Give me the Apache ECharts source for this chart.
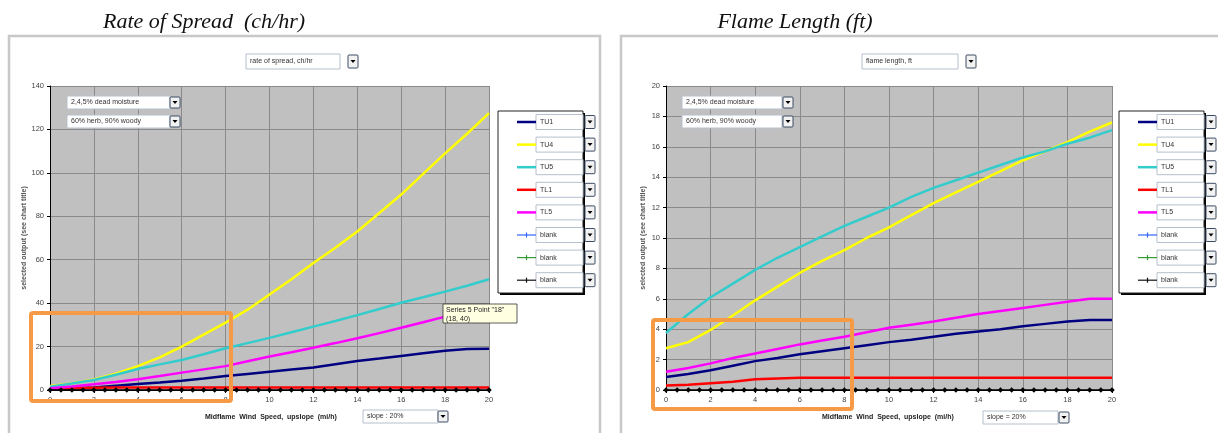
<!DOCTYPE html>
<html>
<head>
<meta charset="utf-8">
<script src="https://cdn.jsdelivr.net/npm/echarts@6/dist/echarts.min.js"></script>
<style>
  html, body { margin: 0; padding: 0; background: #fff; }
  #chart { width: 1218px; height: 433px; }
</style>
</head>
<body>
<div id="chart"></div>
<script>
// wind speed (mi/h) for the fuel model curves
const windSpeed = [0, 1, 2, 3, 4, 5, 6, 7, 8, 9, 10, 11, 12, 13, 14, 15, 16, 17, 18, 19, 20]

// rate of spread, ch/hr
const rosTU1 = [0.3, 0.7, 1.2, 2.0, 2.8, 3.5, 4.3, 5.3, 6.4, 7.4, 8.4, 9.4, 10.4, 11.9, 13.4, 14.5, 15.7, 16.9, 18.1, 18.9, 19.0]
const rosTU4 = [1.8, 3.0, 4.8, 7.5, 11, 15, 20, 25.5, 31, 37, 44, 51, 58.5, 65.5, 73, 81.5, 90, 99.5, 109, 118, 127.5]
const rosTU5 = [1.5, 3.0, 4.6, 7.0, 9.7, 11.8, 13.8, 16.5, 19.2, 21.6, 24, 26.6, 29.2, 31.8, 34.5, 37.3, 40.2, 42.7, 45.3, 48, 51]
const rosTL1 = [0.7, 0.9, 1.0, 1.1, 1.2, 1.2, 1.2, 1.2, 1.2, 1.2, 1.2, 1.2, 1.2, 1.2, 1.2, 1.2, 1.2, 1.2, 1.2, 1.2, 1.2]
const rosTL5 = [0.8, 1.6, 2.6, 3.7, 4.9, 6.4, 8.0, 9.5, 11, 13.2, 15.4, 17.4, 19.5, 21.6, 23.8, 26.2, 28.7, 31.2, 33.8, 36.5, 39]

// flame length, ft
const flTU1 = [0.85, 1.05, 1.3, 1.6, 1.9, 2.1, 2.35, 2.55, 2.75, 2.95, 3.15, 3.3, 3.5, 3.7, 3.85, 4.0, 4.2, 4.35, 4.5, 4.6, 4.6]
const flTU4 = [2.75, 3.15, 3.95, 4.9, 5.9, 6.8, 7.7, 8.5, 9.2, 10.0, 10.7, 11.5, 12.3, 13.0, 13.7, 14.4, 15.1, 15.7, 16.3, 17.0, 17.6]
const flTU5 = [3.75, 5.0, 6.1, 7.0, 7.9, 8.7, 9.4, 10.1, 10.8, 11.4, 12.0, 12.7, 13.3, 13.8, 14.3, 14.8, 15.3, 15.7, 16.2, 16.6, 17.1]
const flTL1 = [0.3, 0.35, 0.45, 0.55, 0.7, 0.75, 0.8, 0.8, 0.8, 0.8, 0.8, 0.8, 0.8, 0.8, 0.8, 0.8, 0.8, 0.8, 0.8, 0.8, 0.8]
const flTL5 = [1.2, 1.45, 1.75, 2.1, 2.4, 2.7, 3.0, 3.25, 3.5, 3.8, 4.1, 4.3, 4.5, 4.75, 5.0, 5.2, 5.4, 5.6, 5.8, 6.0, 6.0]

// the "blank" series sits on the x axis, one marker every half mile
const blankX = [0, 0.5, 1, 1.5, 2, 2.5, 3, 3.5, 4, 4.5, 5, 5.5, 6, 6.5, 7, 7.5, 8, 8.5, 9, 9.5, 10,
  10.5, 11, 11.5, 12, 12.5, 13, 13.5, 14, 14.5, 15, 15.5, 16, 16.5, 17, 17.5, 18, 18.5, 19, 19.5, 20]
const blankY = [0, 0, 0, 0, 0, 0, 0, 0, 0, 0, 0, 0, 0, 0, 0, 0, 0, 0, 0, 0, 0,
  0, 0, 0, 0, 0, 0, 0, 0, 0, 0, 0, 0, 0, 0, 0, 0, 0, 0, 0, 0]

const legendNames = ['TU1', 'TU4', 'TU5', 'TL1', 'TL5', 'blank', 'blank', 'blank']
const legendColors = ['#000080', '#ffff00', '#33cccc', '#ff0000', '#ff00ff', '#3366ff', '#339933', '#111111']

const rosTicks = [0, 140, 20]
const flTicks = [0, 20, 2]

const font = '"Liberation Sans", Arial, sans-serif'
const tinyText = '7px ' + font

function pairs (ys) {
  return ys.map((y, i) => [windSpeed[i], y])
}

function curve (name, ys, color, idx) {
  return {
    name: name,
    type: 'line',
    xAxisIndex: idx,
    yAxisIndex: idx,
    data: pairs(ys),
    showSymbol: false,
    lineStyle: { color: color, width: 2.5 },
    itemStyle: { color: color },
    animation: false
  }
}

function blankSeries (idx) {
  return {
    name: 'blank',
    type: 'line',
    xAxisIndex: idx,
    yAxisIndex: idx,
    data: blankX.map((x, i) => [x, blankY[i]]),
    symbol: 'diamond',
    symbolSize: 5.5,
    lineStyle: { color: '#000', width: 1.5 },
    itemStyle: { color: '#000' },
    animation: false,
    z: 3
  }
}

function xAxisCfg (idx) {
  return {
    type: 'value',
    gridIndex: idx,
    min: 0,
    max: 20,
    interval: 2,
    axisLine: { lineStyle: { color: '#000', width: 1 } },
    axisTick: { show: true, length: 3, lineStyle: { color: '#000' } },
    axisLabel: { fontFamily: font, fontSize: 7.5, color: '#444', margin: 6 },
    splitLine: { show: true, lineStyle: { color: '#8a8a8a', width: 1 } }
  }
}

function yAxisCfg (idx, t) {
  return {
    type: 'value',
    gridIndex: idx,
    min: t[0],
    max: t[1],
    interval: t[2],
    name: 'selected output (see chart title)',
    nameLocation: 'middle',
    nameGap: 19,
    nameTextStyle: { fontFamily: font, fontSize: 7, color: '#555', fontWeight: 'bold' },
    axisLine: { show: true, lineStyle: { color: '#000', width: 1 } },
    axisTick: { show: true, length: 3, lineStyle: { color: '#000' } },
    axisLabel: { fontFamily: font, fontSize: 7.5, color: '#444', margin: 6 },
    splitLine: { show: true, lineStyle: { color: '#8a8a8a', width: 1 } }
  }
}

// little combo box like the ones in the spreadsheet
function dropdown (x, y, w, h, label, ax) {
  return [
    { type: 'rect', z: 100, shape: { x: x, y: y, width: w, height: h },
      style: { fill: '#fff', stroke: '#b4c0cc', lineWidth: 1 } },
    { type: 'text', z: 101, style: { text: label, x: x + 4, y: y + h / 2, font: tinyText, fill: '#333', verticalAlign: 'middle' } },
    { type: 'rect', z: 101, shape: { x: ax, y: y + 1, width: 10, height: h - 2, r: 1 },
      style: { fill: '#f2f2f2', stroke: '#3c4c64', lineWidth: 1 } },
    { type: 'polygon', z: 102, shape: { points: [[ax + 2.5, y + h / 2 - 1.5], [ax + 7.5, y + h / 2 - 1.5], [ax + 5, y + h / 2 + 1.5]] },
      style: { fill: '#000' } }
  ]
}

function legendBox (x0, y0) {
  let els = [
    { type: 'rect', z: 99, shape: { x: x0 + 2, y: y0 + 2, width: 85, height: 182 }, style: { fill: '#000' } },
    { type: 'rect', z: 100, shape: { x: x0, y: y0, width: 85, height: 182 }, style: { fill: '#fff', stroke: '#222', lineWidth: 1 } }
  ]
  legendNames.forEach((name, i) => {
    let cy = y0 + 11 + i * 22.6
    let thin = name === 'blank'
    els.push({ type: 'line', z: 101, shape: { x1: x0 + 19, y1: cy, x2: x0 + 38, y2: cy },
      style: { stroke: legendColors[i], lineWidth: thin ? 1.2 : 2.5 } })
    if (thin) {
      els.push({ type: 'line', z: 101, shape: { x1: x0 + 28.5, y1: cy - 2.5, x2: x0 + 28.5, y2: cy + 2.5 },
        style: { stroke: legendColors[i], lineWidth: 1.2 } })
    }
    els = els.concat(dropdown(x0 + 38, cy - 7.5, 47, 15, name, x0 + 87))
  })
  return els
}

function frame (x, w, title, titleX) {
  return [
    { type: 'rect', z: 1, shape: { x: x, y: 36, width: w, height: 420 },
      style: { fill: 'none', stroke: '#c8c8c8', lineWidth: 2.5 } },
    { type: 'text', z: 1, style: { text: title, x: titleX, y: 22, align: 'center', verticalAlign: 'middle',
      font: 'italic 22px "Liberation Serif", "Times New Roman", serif', fill: '#111' } }
  ]
}

function orangeBox (x, y, w, h) {
  return { type: 'rect', z: 110, shape: { x: x, y: y, width: w, height: h, r: 2 },
    style: { fill: 'none', stroke: '#f79a45', lineWidth: 4 } }
}

function axisTitle (x, y) {
  return { type: 'text', z: 100, style: { text: 'Midflame  Wind  Speed,  upslope  (mi/h)', x: x, y: y,
    font: 'bold 7px ' + font, fill: '#222', verticalAlign: 'middle' } }
}

let graphics = []
graphics = graphics.concat(frame(9, 591, 'Rate of Spread  (ch/hr)', 204))
graphics = graphics.concat(frame(621, 620, 'Flame Length (ft)', 795))
graphics = graphics.concat(dropdown(246, 54, 94, 15, 'rate of spread, ch/hr', 348))
graphics = graphics.concat(dropdown(862, 54, 96, 15, 'flame length, ft', 966))
graphics = graphics.concat(dropdown(67, 96, 103, 13, '2,4,5% dead moisture', 170))
graphics = graphics.concat(dropdown(67, 115, 103, 13, '60% herb, 90% woody', 170))
graphics = graphics.concat(dropdown(682, 96, 100, 13, '2,4,5% dead moisture', 783))
graphics = graphics.concat(dropdown(682, 115, 100, 13, '60% herb, 90% woody', 783))
graphics = graphics.concat(legendBox(498, 111))
graphics = graphics.concat(legendBox(1119, 111))
graphics.push(axisTitle(205, 417))
graphics.push(axisTitle(822, 417))
graphics = graphics.concat(dropdown(363, 410, 75, 13, 'slope : 20%', 438))
graphics = graphics.concat(dropdown(983, 411, 75, 13, 'slope = 20%', 1059))
// the hover tip left on the screen in the original capture
graphics.push({ type: 'rect', z: 105, shape: { x: 443, y: 304, width: 74, height: 19 },
  style: { fill: '#ffffe1', stroke: '#333', lineWidth: 0.8 } })
graphics.push({ type: 'text', z: 106, style: { text: 'Series 5 Point "18"\n(18, 40)', x: 446, y: 306,
  font: tinyText, fill: '#222', lineHeight: 8.5 } })
graphics.push(orangeBox(31, 313, 200, 88))
graphics.push(orangeBox(653, 320, 199, 89))

let chartDom = document.getElementById('chart')
let myChart = echarts.init(chartDom)
let option = {
  backgroundColor: '#fff',
  animation: false,
  grid: [
    { left: 50, top: 86, width: 439, height: 304, show: true, backgroundColor: '#c0c0c0', borderWidth: 0 },
    { left: 666, top: 86, width: 446, height: 304, show: true, backgroundColor: '#c0c0c0', borderWidth: 0 }
  ],
  xAxis: [xAxisCfg(0), xAxisCfg(1)],
  yAxis: [yAxisCfg(0, rosTicks), yAxisCfg(1, flTicks)],
  series: [
    curve('TU1', rosTU1, legendColors[0], 0),
    curve('TU4', rosTU4, legendColors[1], 0),
    curve('TU5', rosTU5, legendColors[2], 0),
    curve('TL1', rosTL1, legendColors[3], 0),
    curve('TL5', rosTL5, legendColors[4], 0),
    blankSeries(0),
    curve('TU1', flTU1, legendColors[0], 1),
    curve('TU4', flTU4, legendColors[1], 1),
    curve('TU5', flTU5, legendColors[2], 1),
    curve('TL1', flTL1, legendColors[3], 1),
    curve('TL5', flTL5, legendColors[4], 1),
    blankSeries(1)
  ],
  graphic: graphics
}
myChart.setOption(option)
</script>
</body>
</html>
